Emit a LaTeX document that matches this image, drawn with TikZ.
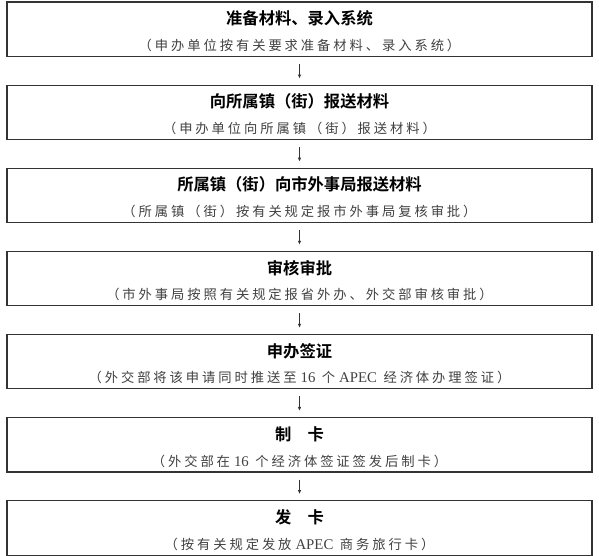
\documentclass[tikz,border=0pt]{standalone}
\usepackage{fontspec}
\newfontfamily\cjk[BoldFont={Noto Sans CJK SC Bold}]{Noto Sans CJK SC}
\newfontfamily\latin{Liberation Serif}
\usetikzlibrary{positioning, arrows.meta}
\newcommand{\lat}[1]{\hspace{4pt}{\latin\fontsize{14.8}{15}\selectfont #1}\hspace{6.5pt}}

\begin{document}
\begin{tikzpicture}[x=1pt,y=1pt,
        stepbox/.style={% For the main boxes
            rectangle,
            draw=black!80,
            line width=1.1pt,
            minimum width=585pt,
            minimum height=54.5pt,
            inner sep=0pt,
            },
        title/.style={% For the bold first line
            font=\cjk\bfseries\fontsize{16.3}{18}\selectfont,
            text=black,
            },
        note/.style={% For the line in brackets
            font=\cjk\fontsize{13.3}{15}\selectfont\addfontfeature{LetterSpace=22},
            text=black!75,
            },
        ArrowD/.style={% Short arrows between the boxes
            -{Latex[length=4pt,width=3.5pt]},
            line width=0.8pt,
            draw=black!80,
            shorten <=7pt,
            shorten >=6pt,
            },
        node distance=27.5pt,
            ]
  \useasboundingbox (0,0) rectangle (599,-556);
  % Boxes
  \node[stepbox] (box1) at (299.5,-29.25) {};
  \node[stepbox, below=of box1] (box2) {};
  \node[stepbox, below=of box2] (box3) {};
  \node[stepbox, below=of box3] (box4) {};
  \node[stepbox, below=of box4] (box5) {};
  \node[stepbox, below=of box5] (box6) {};
  \node[stepbox, below=of box6] (box7) {};
  % Texts
  \node[title] (t1) at ([yshift=-17pt]box1.north) {准备材料、录入系统};
  \node[note] (n1) at ([yshift=-44pt]box1.north) {（申办单位按有关要求准备材料、录入系统）};
  \node[title] (t2) at ([yshift=-17pt]box2.north) {向所属镇（街）报送材料};
  \node[note] (n2) at ([yshift=-44pt]box2.north) {（申办单位向所属镇（街）报送材料）};
  \node[title] (t3) at ([yshift=-17pt]box3.north) {所属镇（街）向市外事局报送材料};
  \node[note] (n3) at ([yshift=-44pt]box3.north) {（所属镇（街）按有关规定报市外事局复核审批）};
  \node[title] (t4) at ([yshift=-17pt]box4.north) {审核审批};
  \node[note] (n4) at ([yshift=-44pt]box4.north) {（市外事局按照有关规定报省外办、外交部审核审批）};
  \node[title] (t5) at ([yshift=-17pt]box5.north) {申办签证};
  \node[note] (n5) at ([yshift=-44pt]box5.north) {（外交部将该申请同时推送至\lat{16}个\lat{APEC}经济体办理签证）};
  \node[title] (t6) at ([yshift=-17pt]box6.north) {制　卡};
  \node[note] (n6) at ([yshift=-44pt]box6.north) {（外交部在\lat{16}个经济体签证签发后制卡）};
  \node[title] (t7) at ([yshift=-17pt]box7.north) {发　卡};
  \node[note] (n7) at ([yshift=-44pt]box7.north) {（按有关规定发放\lat{APEC}商务旅行卡）};
  % Arrows
  \draw[ArrowD] (box1) -- (box2);
  \draw[ArrowD] (box2) -- (box3);
  \draw[ArrowD] (box3) -- (box4);
  \draw[ArrowD] (box4) -- (box5);
  \draw[ArrowD] (box5) -- (box6);
  \draw[ArrowD] (box6) -- (box7);
\end{tikzpicture}
\end{document}
